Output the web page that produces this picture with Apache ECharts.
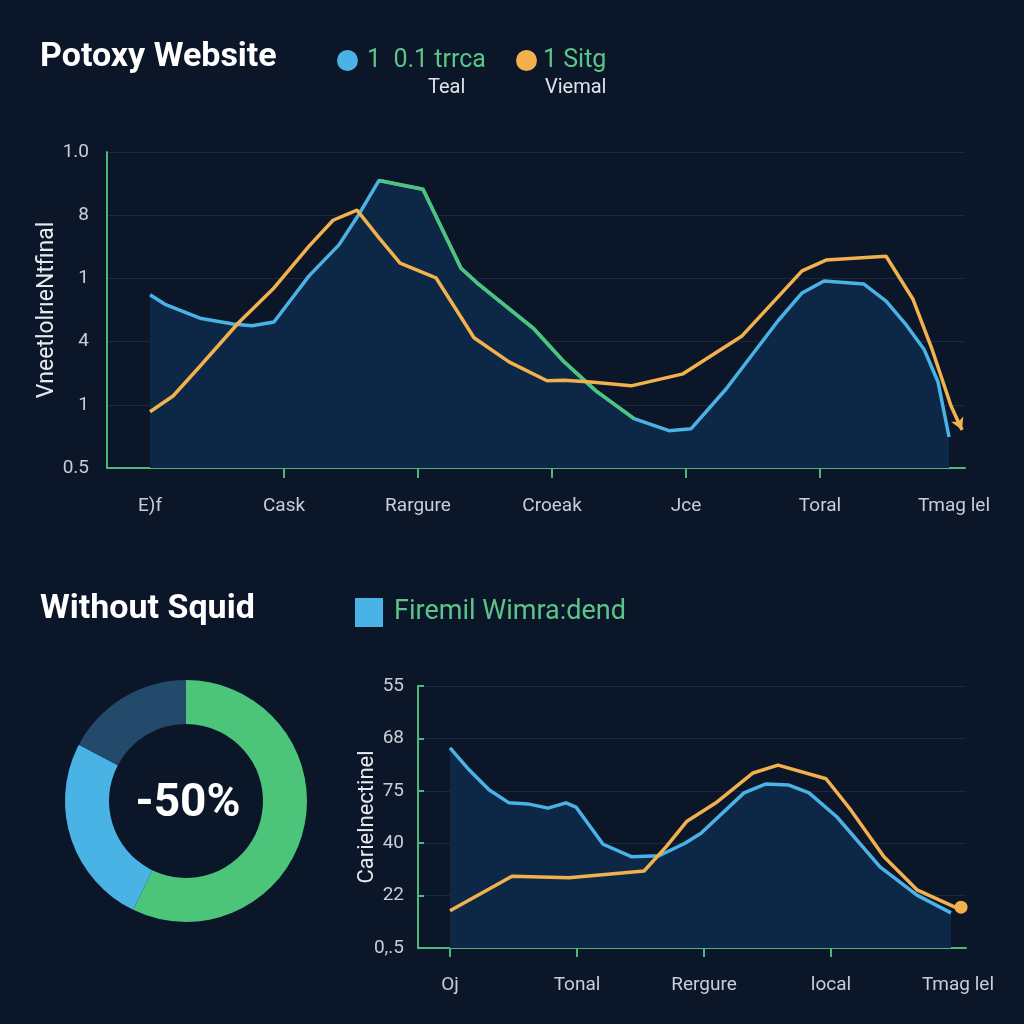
<!DOCTYPE html>
<html>
<head>
<meta charset="utf-8">
<style>
  html, body { margin: 0; padding: 0; background: #0b1629; }
  #chart { width: 1024px; height: 1024px; }
</style>
<script src="https://cdn.jsdelivr.net/npm/echarts@6/dist/echarts.min.js"></script>
</head>
<body>
<div id="chart"></div>
<script>
// ---------- Top chart data ----------
const topCategories = ['E)f', 'Cask', 'Rargure', 'Croeak', 'Jce', 'Toral', 'Tmag lel'];
const topYLabels = ['0.5', '1', '4', '1', '8', '1.0'];
const topBlueX = [0, 0.112, 0.373, 0.619, 0.761, 0.925, 1.187, 1.41, 1.552, 1.709, 2.037, 2.321, 2.44, 2.866, 3.09, 3.328, 3.612, 3.873, 4.037, 4.299, 4.687, 4.866, 5.03, 5.328, 5.493, 5.634, 5.776, 5.881, 5.963];
const topBlueY = [2.74, 2.59, 2.37, 2.28, 2.25, 2.31, 3.04, 3.53, 3.99, 4.55, 4.41, 3.16, 2.93, 2.20, 1.68, 1.22, 0.78, 0.59, 0.62, 1.25, 2.33, 2.77, 2.96, 2.91, 2.64, 2.29, 1.88, 1.36, 0.49];
const topGreenFrom = 9;   // index range of the blue curve drawn in green
const topGreenTo = 16;
const topOrangeX = [0, 0.172, 0.373, 0.657, 0.925, 1.187, 1.366, 1.545, 1.709, 1.866, 2.134, 2.418, 2.679, 2.963, 3.09, 3.291, 3.59, 3.978, 4.418, 4.866, 5.045, 5.493, 5.694, 5.836, 5.978, 6.06];
const topOrangeY = [0.89, 1.14, 1.61, 2.29, 2.85, 3.51, 3.92, 4.08, 3.64, 3.24, 3.01, 2.06, 1.68, 1.38, 1.39, 1.36, 1.30, 1.49, 2.09, 3.12, 3.29, 3.35, 2.67, 1.88, 0.98, 0.60];

// ---------- Bottom chart data ----------
const botCategories = ['Oj', 'Tonal', 'Rergure', 'local', 'Tmag lel'];
const botYLabels = ['0,.5', '22', '40', '75', '68', '55'];
const botBlueX = [0, 0.15, 0.307, 0.465, 0.614, 0.772, 0.913, 0.992, 1.205, 1.433, 1.646, 1.85, 1.976, 2.315, 2.488, 2.669, 2.827, 3.047, 3.386, 3.677, 3.945];
const botBlueY = [3.82, 3.40, 3.02, 2.77, 2.75, 2.67, 2.77, 2.69, 1.98, 1.74, 1.76, 2.00, 2.19, 2.96, 3.13, 3.11, 2.96, 2.50, 1.55, 1.01, 0.67];
const botOrangeX = [0, 0.488, 0.937, 1.528, 1.701, 1.866, 2.094, 2.386, 2.583, 2.961, 3.157, 3.417, 3.677, 3.976, 4.024];
const botOrangeY = [0.71, 1.37, 1.34, 1.47, 1.93, 2.42, 2.77, 3.34, 3.49, 3.23, 2.63, 1.74, 1.11, 0.78, 0.78];

// ---------- Donut data ----------
const donutNames = ['Green', 'Blue', 'Slate'];
const donutValues = [57.2, 25.5, 17.3];
const donutCenterText = '-50%';

// ---------- Texts ----------
const topTitle = 'Potoxy Website';
const botTitle = 'Without Squid';
const topSeriesNames = ['1  0.1 trrca', '1 Sitg'];
const topLegendSub = ['Teal', 'Viemal'];
const botSeriesName = 'Firemil Wimra:dend';
const topYName = 'VneetlolrıeNtfinal';
const botYName = 'Carielnectinel';

// ---------- Styles ----------
const C = {
  bg: '#0b1629', blue: '#4ab3e6', green: '#4cc47a', orange: '#f2b14c',
  area: '#0d2746', grid: '#1a2940', axis: '#4cb87a', label: '#c9ced6',
  legendText: '#5cc48a', slate: '#244a6b'
};
const FONT = 'Roboto, "Noto Sans", sans-serif';

function zip(xs, ys) { return xs.map((x, i) => [x, ys[i]]); }

const topBlueData = zip(topBlueX, topBlueY);
const topGreenData = topBlueData.slice(topGreenFrom, topGreenTo + 1);
const topOrangeData = zip(topOrangeX, topOrangeY).map((p, i, a) =>
  i === a.length - 1 ? { value: p, symbol: 'arrow', symbolSize: [10, 12], symbolRotate: 204, itemStyle: { color: C.orange } } : p);
const botBlueData = zip(botBlueX, botBlueY);
const botOrangeData = zip(botOrangeX, botOrangeY).map((p, i, a) =>
  i === a.length - 1 ? { value: p, symbol: 'circle', symbolSize: 13, itemStyle: { color: C.orange } } : p);

const axisLabelStyle = { color: C.label, fontSize: 19, fontFamily: FONT };

const chart = echarts.init(document.getElementById('chart'), null, { renderer: 'canvas' });
chart.setOption({
  backgroundColor: C.bg,
  animation: false,
  title: [
    { text: topTitle, left: 35, top: 35, textStyle: { color: '#ffffff', fontSize: 34, fontWeight: 'bold', fontFamily: FONT } },
    { text: botTitle, left: 35, top: 587, textStyle: { color: '#ffffff', fontSize: 34, fontWeight: 'bold', fontFamily: FONT } },
    { text: donutCenterText, left: 183, top: 776, textAlign: 'center', textStyle: { color: '#ffffff', fontSize: 46, fontWeight: 'bold', fontFamily: FONT } }
  ],
  legend: [
    { data: [topSeriesNames[0]], left: 332, top: 43, icon: 'circle', itemWidth: 21, itemHeight: 21,
      textStyle: { color: C.legendText, fontSize: 25, fontFamily: FONT, padding: [0, 0, 0, 4] } },
    { data: [topSeriesNames[1]], left: 511, top: 43, icon: 'circle', itemWidth: 21, itemHeight: 21,
      textStyle: { color: C.legendText, fontSize: 25, fontFamily: FONT, padding: [0, 0, 0, 1] } },
    { data: [botSeriesName], left: 350, top: 593, icon: 'rect', itemWidth: 28, itemHeight: 29,
      textStyle: { color: C.legendText, fontSize: 27, fontFamily: FONT, padding: [0, 0, 0, 6] } }
  ],
  graphic: [
    { type: 'text', left: 428, top: 78, style: { text: topLegendSub[0], fill: '#dfe3ea', font: '20px ' + FONT } },
    { type: 'text', left: 545, top: 78, style: { text: topLegendSub[1], fill: '#dfe3ea', font: '20px ' + FONT } }
  ],
  grid: [
    { left: 107, right: 59, top: 152, bottom: 556, containLabel: false },
    { left: 418, right: 58, top: 686, bottom: 76, containLabel: false }
  ],
  xAxis: [
    { type: 'value', gridIndex: 0, min: -0.321, max: 6.082,
      axisLine: { show: true, onZero: false, lineStyle: { color: C.axis, width: 2 } },
      axisTick: { show: true, customValues: [1, 2, 3, 4, 5], length: 10, lineStyle: { color: C.axis, width: 2 } },
      axisLabel: Object.assign({ customValues: [0, 1, 2, 3, 4, 5, 6], margin: 29,
        formatter: v => topCategories[Math.round(v)] }, axisLabelStyle),
      splitLine: { show: false } },
    { type: 'value', gridIndex: 1, min: -0.252, max: 4.063,
      axisLine: { show: true, onZero: false, lineStyle: { color: C.axis, width: 2 } },
      axisTick: { show: true, customValues: [0, 1, 2, 3], length: 9, lineStyle: { color: C.axis, width: 2 } },
      axisLabel: Object.assign({ customValues: [0, 1, 2, 3, 4], margin: 28,
        formatter: v => botCategories[Math.round(v)] }, axisLabelStyle),
      splitLine: { show: false } }
  ],
  yAxis: [
    { type: 'value', gridIndex: 0, min: 0, max: 5, interval: 1,
      name: topYName, nameLocation: 'middle', nameGap: 48, nameRotate: 90, nameMoveOverlap: false,
      nameTextStyle: { color: '#e6e9ee', fontSize: 23, fontFamily: FONT },
      axisLine: { show: true, onZero: false, lineStyle: { color: C.axis, width: 2 } },
      axisTick: { show: false },
      axisLabel: Object.assign({ margin: 18, formatter: v => topYLabels[Math.round(v)] }, axisLabelStyle),
      splitLine: { show: true, lineStyle: { color: C.grid, width: 1 } } },
    { type: 'value', gridIndex: 1, min: 0, max: 5, interval: 1,
      name: botYName, nameLocation: 'middle', nameGap: 40, nameRotate: 90, nameMoveOverlap: false,
      nameTextStyle: { color: '#e6e9ee', fontSize: 22, fontFamily: FONT },
      axisLine: { show: true, onZero: false, lineStyle: { color: C.axis, width: 2 } },
      axisTick: { show: true, inside: true, length: 6, lineStyle: { color: C.axis, width: 2 } },
      axisLabel: Object.assign({ margin: 14, formatter: v => botYLabels[Math.round(v)] }, axisLabelStyle),
      splitLine: { show: true, lineStyle: { color: C.grid, width: 1 } } }
  ],
  series: [
    { name: topSeriesNames[0], type: 'line', xAxisIndex: 0, yAxisIndex: 0, data: topBlueData,
      symbol: 'none', lineStyle: { color: C.blue, width: 3.5 }, itemStyle: { color: C.blue },
      areaStyle: { color: C.area, opacity: 1 }, z: 2 },
    { name: 'green-segment', type: 'line', xAxisIndex: 0, yAxisIndex: 0, data: topGreenData,
      symbol: 'none', lineStyle: { color: C.green, width: 3.5 }, itemStyle: { color: C.green }, z: 3 },
    { name: topSeriesNames[1], type: 'line', xAxisIndex: 0, yAxisIndex: 0, data: topOrangeData,
      symbol: 'none', showSymbol: true, showAllSymbol: true,
      lineStyle: { color: C.orange, width: 3.5 }, itemStyle: { color: C.orange }, z: 4 },
    { name: botSeriesName, type: 'line', xAxisIndex: 1, yAxisIndex: 1, data: botBlueData,
      symbol: 'none', lineStyle: { color: C.blue, width: 3.5 }, itemStyle: { color: C.blue },
      areaStyle: { color: C.area, opacity: 1 }, z: 2 },
    { name: 'bottom-orange', type: 'line', xAxisIndex: 1, yAxisIndex: 1, data: botOrangeData,
      symbol: 'none', showSymbol: true, showAllSymbol: true,
      lineStyle: { color: C.orange, width: 3.5 }, itemStyle: { color: C.orange }, z: 4 },
    { name: 'donut', type: 'pie', center: [186, 801], radius: [77, 121], startAngle: 90, clockwise: true,
      label: { show: false }, labelLine: { show: false }, silent: true,
      itemStyle: { borderWidth: 0 },
      data: donutNames.map((n, i) => ({ name: n, value: donutValues[i],
        itemStyle: { color: [C.green, C.blue, C.slate][i] } })) }
  ]
});
</script>
</body>
</html>
